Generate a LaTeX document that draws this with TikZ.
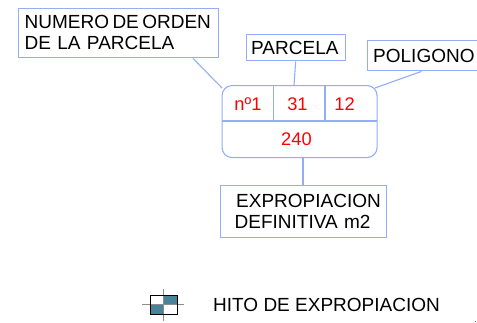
\documentclass[tikz,border=0pt]{standalone}
\usepackage{fontspec}
\setmainfont{Liberation Sans}
\definecolor{frame}{HTML}{93AEF7}
\definecolor{teal}{HTML}{4A8299}
\newcommand{\lbl}{\fontsize{19}{22}\selectfont}
\newcommand{\val}{\fontsize{18.3}{22}\selectfont}
\tikzset{
  lab/.style={draw=frame,line width=1.4pt,fill=white,inner sep=0pt,text=black,font=\lbl,align=left,anchor=north west},
  num/.style={text=red,font=\val,inner sep=0pt},
  link/.style={draw=frame,line width=1.1pt},
  rule/.style={draw=frame,line width=1.1pt},
}
\begin{document}
\begin{tikzpicture}[x=1pt,y=-1pt]
\useasboundingbox (0,0) rectangle (477,322);
\coordinate (tN) at (222,88);
\coordinate (tP) at (294,85);
\coordinate (tQ) at (375,88);
\coordinate (tE) at (303,157);
% label boxes
\node[lab,minimum width=200pt,minimum height=49pt,text width=194pt] (orden) at (18,8) {\raisebox{2pt}{\spaceskip=3.4pt\hspace*{3pt}NUMERO DE ORDEN}\\[-0.5pt]\raisebox{2pt}{\hspace*{3pt}DE LA PARCELA}};
\node[lab,minimum width=99pt,minimum height=26pt,text width=93pt] (parcela) at (245.5,34) {\hspace*{2pt}PARCELA};
\node[lab,minimum width=110pt,minimum height=30pt,text width=104pt] (poligono) at (366.5,40) {\hspace*{3pt}\raisebox{-1pt}{POLIGONO}};
\node[lab,minimum width=166pt,minimum height=52pt,text width=160pt] (expro) at (220,184.5) {\raisebox{-2.5pt}{\hspace*{12.5pt}EXPROPIACION}\\[1pt]\raisebox{-1pt}{\hspace*{11pt}DEFINITIVA m2}};
% table
\node[draw=frame,line width=1.1pt,rounded corners=10pt,minimum width=155pt,minimum height=72pt,inner sep=0pt,anchor=north west] (table) at (221.5,85) {};
\coordinate (rowL) at (221.5,121);
\coordinate (rowR) at (376.5,121);
\coordinate (v1t) at (273.5,85);
\coordinate (v1b) at (273.5,121);
\coordinate (v2t) at (325,85);
\coordinate (v2b) at (325,121);
\draw[rule] (rowL) -- (rowR);
\draw[rule] (v1t) -- (v1b);
\draw[rule] (v2t) -- (v2b);
\node[num] (n1) at (248,104.5) {nº1};
\node[num] (n2) at (297.5,104.5) {31};
\node[num] (n3) at (344.5,104.5) {12};
\node[num] (n4) at (296.5,139) {240};
% connectors
\draw[link] (orden.south west)++(175,0) coordinate (oS) (oS) -- (tN);
\draw[link] (parcela.south) -- (tP);
\draw[link] (poligono.south west)++(55,0) coordinate (pS) (pS) -- (tQ);
\draw[link] (tE) -- (tE |- expro.north);
% legend
\coordinate (hL) at (142,304.5);
\coordinate (hR) at (184,304.5);
\coordinate (vT) at (163,289);
\coordinate (vB) at (163,321);
\fill[teal] (163,295) rectangle (176.5,304.5);
\fill[teal] (150,304.5) rectangle (163,314);
\draw[black!45,line width=1pt] (hL) -- (hR);
\draw[black!45,line width=1pt] (vT) -- (vB);
\node[draw=black,line width=0.8pt,minimum width=26.5pt,minimum height=19pt,inner sep=0pt,anchor=north west] (hito) at (150,295) {};
\node[text=black,font=\fontsize{19}{22}\selectfont,inner sep=0pt,anchor=west] (hitotxt) at (213,305) {HITO DE EXPROPIACION};
\fill[teal] (474.5,320.5) rectangle (476,321.5);
\end{tikzpicture}
\end{document}
